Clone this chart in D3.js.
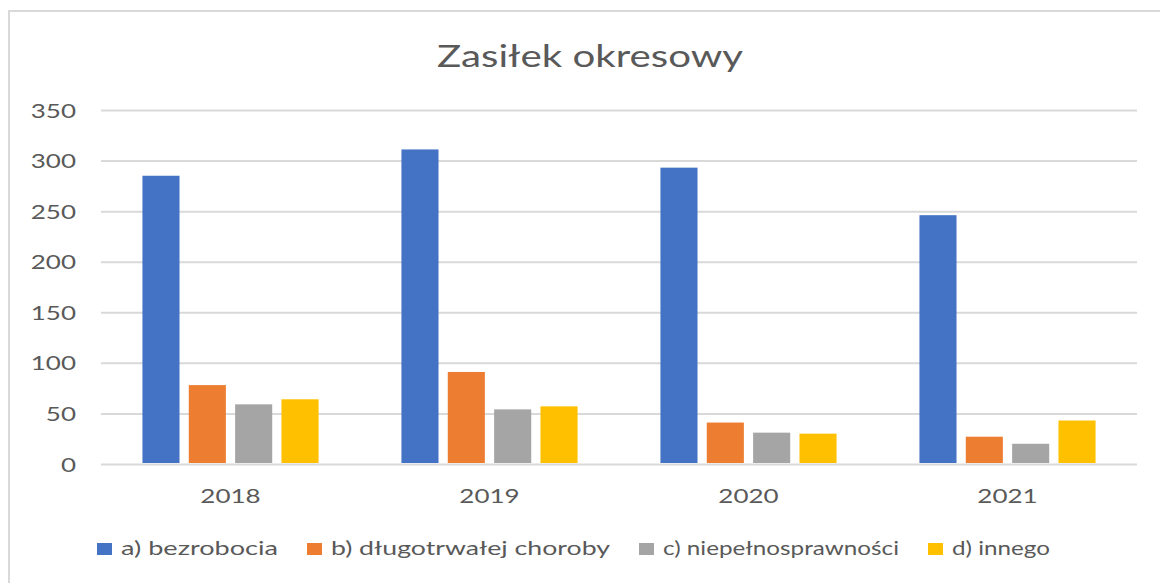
<!DOCTYPE html>
<html>
<head>
<meta charset="utf-8">
<script src="https://cdn.jsdelivr.net/npm/d3@7"></script>
<style>
  html, body { margin: 0; padding: 0; background: #ffffff; }
  svg { display: block; }
  text { font-family: Lato, "Open Sans", sans-serif; fill: #595959; }
</style>
</head>
<body>
<svg id="chart" width="1160" height="583"></svg>
<script>
// ---- data ----
const title = "Zasiłek okresowy";
const categories = ["2018", "2019", "2020", "2021"];
const seriesNames = ["a) bezrobocia", "b) długotrwałej choroby", "c) niepełnosprawności", "d) innego"];
const bezrobocia = [285, 311, 293, 246];
const dlugotrwalejChoroby = [78, 91, 41, 27];
const niepelnosprawnosci = [59, 54, 31, 20];
const innego = [64, 57, 30, 43];
const yTicks = [0, 50, 100, 150, 200, 250, 300, 350];
const colors = ["#4472C4", "#ED7D31", "#A5A5A5", "#FFC000"];

const seriesValues = [bezrobocia, dlugotrwalejChoroby, niepelnosprawnosci, innego];
const rows = categories.map((c, i) => ({
  cat: c,
  vals: seriesNames.map((s, j) => ({ key: s, value: seriesValues[j][i], color: colors[j] }))
}));

// ---- layout ----
const SX = 1.3; // horizontal text stretch seen in the reference
const plot = { left: 101, right: 1137, top: 110, bottom: 464 };
const svg = d3.select("#chart");

// chart border
svg.append("rect")
  .attr("x", 9).attr("y", 11)
  .attr("width", 1200).attr("height", 620)
  .attr("fill", "#ffffff")
  .attr("stroke", "#d9d9d9").attr("stroke-width", 2);

// title
svg.append("text")
  .text(title)
  .attr("x", 437).attr("y", 67)
  .attr("font-size", 30)
  .attr("textLength", 306)
  .attr("lengthAdjust", "spacingAndGlyphs");

// scales
const x0 = d3.scaleBand().domain(categories).range([plot.left, plot.right])
  .paddingInner(0.32).paddingOuter(0.16);
const x1 = d3.scaleBand().domain(seriesNames).range([0, x0.bandwidth()])
  .paddingInner(0.2).paddingOuter(0);
const y = d3.scaleLinear().domain([0, 350]).range([plot.bottom, plot.top]);

// y axis + gridlines
const yAxis = svg.append("g")
  .attr("transform", `translate(${plot.left},0)`)
  .call(d3.axisLeft(y).tickValues(yTicks).tickSize(-(plot.right - plot.left)).tickPadding(0));
yAxis.select(".domain").remove();
yAxis.selectAll(".tick line").attr("stroke", "#d9d9d9").attr("stroke-width", 2);
yAxis.selectAll(".tick text")
  .attr("x", 0).attr("dy", null).attr("y", 0)
  .attr("text-anchor", "end")
  .attr("font-size", 20)
  .attr("font-family", "Lato, sans-serif")
  .attr("fill", "#595959")
  .attr("transform", `translate(${76 - plot.left},7) scale(${SX},1)`);

// bars
const groups = svg.append("g").selectAll("g")
  .data(rows).join("g")
  .attr("transform", d => `translate(${x0(d.cat)},0)`);
groups.selectAll("rect")
  .data(d => d.vals).join("rect")
  .attr("x", d => x1(d.key))
  .attr("width", x1.bandwidth())
  .attr("y", d => y(d.value))
  .attr("height", d => y(0) - y(d.value) - 1)
  .attr("fill", d => d.color);

// x axis labels
const xAxis = svg.append("g")
  .attr("transform", `translate(0,${plot.bottom})`)
  .call(d3.axisBottom(x0).tickSize(0).tickPadding(0));
xAxis.select(".domain").remove();
xAxis.selectAll(".tick text")
  .attr("y", 0).attr("dy", null)
  .attr("text-anchor", "middle")
  .attr("font-size", 20)
  .attr("font-family", "Lato, sans-serif")
  .attr("fill", "#595959")
  .attr("transform", `translate(0,39) scale(${SX},1)`);

// legend (text widths matched to the reference)
const legendTextWidths = [157, 279, 236, 98];
const legend = svg.append("g");
let lx = 97;
const ly = 555;
seriesNames.forEach((name, i) => {
  legend.append("rect")
    .attr("x", lx).attr("y", ly - 12)
    .attr("width", 15).attr("height", 12)
    .attr("fill", colors[i]);
  legend.append("text")
    .text(name)
    .attr("x", lx + 24).attr("y", ly)
    .attr("font-size", 20)
    .attr("textLength", legendTextWidths[i])
    .attr("lengthAdjust", "spacingAndGlyphs");
  lx = lx + 24 + legendTextWidths[i] + 29;
});
</script>
</body>
</html>
